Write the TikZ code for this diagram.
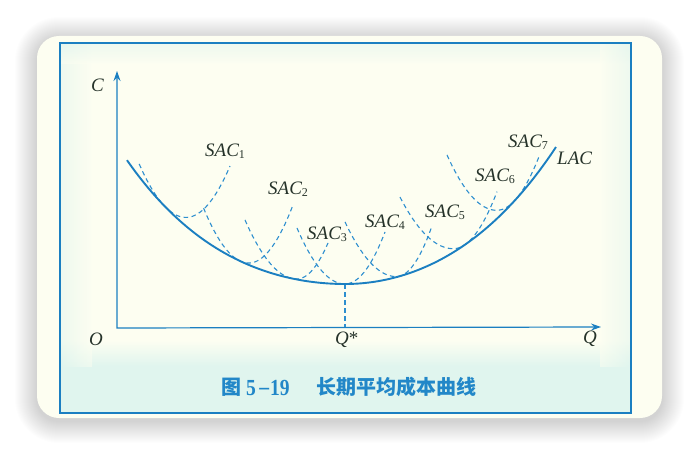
\documentclass[tikz,border=0pt]{standalone}
\usepackage{fontspec}
\usepackage{graphicx}
\setmainfont{Liberation Serif}
\newfontfamily\cjk{Noto Sans CJK SC}
\usetikzlibrary{arrows.meta}
\definecolor{cblue}{HTML}{1B7FC1}
\definecolor{lblue}{HTML}{2E8FCF}
\definecolor{ink}{HTML}{26332A}
\definecolor{cream}{HTML}{FDFEF1}
\definecolor{mint}{HTML}{E0F5EE}
\definecolor{capblue}{HTML}{2287C8}
\newcommand{\mysub}[1]{\raisebox{-1.5pt}{\fontsize{12}{12}\selectfont\upshape #1}}
\newcommand{\sacarc}[6]{%
  \draw[sacline] plot[domain=#1:#2, samples=40] (\x,{#3-#4*(\x-#2)*(\x-#2)})
     -- plot[domain=#2:#6, samples=40] (\x,{#3-#5*(\x-#2)*(\x-#2)});}
\begin{document}
\begin{tikzpicture}[x=1pt,y=-1pt,
  declare function={
    ul(\x)=(\x-345)/100;
    lacl(\x)=284-19.3*(ul(\x))*(ul(\x))-1.42*(ul(\x))*(ul(\x))*(ul(\x))*(ul(\x));
    lacr(\x)=284-25.67*(ul(\x))*(ul(\x))-1.145*(ul(\x))*(ul(\x))*(ul(\x))*(ul(\x));
  },
  lab/.style={font=\fontsize{19}{19}\selectfont\itshape, text=ink, inner sep=0pt, anchor=base west},
  captext/.style={font=\cjk\bfseries\fontsize{20}{20}\selectfont, text=capblue, inner sep=0pt, anchor=base west},
  capnum/.style={font=\bfseries\fontsize{23}{23}\selectfont, text=capblue, inner sep=0pt, anchor=base west},
  sacline/.style={draw=lblue, line width=1.1pt, dash pattern=on 4.5pt off 3.5pt},
  lacline/.style={draw=cblue, line width=1.9pt},
  axisline/.style={draw=cblue, line width=1.2pt, {Stealth[length=10pt,width=7pt]}-{Stealth[length=10pt,width=7pt]}},
]
\useasboundingbox (0,0) rectangle (698,454);
\fill[white] (0,0) rectangle (698,454);
% shadow
\foreach \i [evaluate=\i as \r using 22+\i] in {1,...,22}
  \fill[black, opacity=0.009, rounded corners=\r pt] ({37-\i},{36-\i+3}) rectangle ({662+\i},{418+\i+3});
% card
\fill[cream, rounded corners=22pt] (37,36) rectangle (662,418);
% texture bands
\shade[top color=cream, bottom color=mint] (61,340) rectangle (630,366);
\fill[mint] (61,366) rectangle (630,412);
\shade[left color=mint, right color=cream, opacity=0.5] (61,44) rectangle (92,366);
\shade[top color=mint, bottom color=cream, opacity=0.5] (61,44) rectangle (630,64);
\shade[left color=cream, right color=mint, opacity=0.5] (600,44) rectangle (630,366);
% frame
\draw[cblue, line width=1.8pt] (60,43) rectangle (631,413);
% axes
\coordinate (Ytip) at (117,71);
\coordinate (O) at (117,328);
\coordinate (Xtip) at (601,327);
\draw[axisline] (Ytip) -- (O) -- (Xtip);
% SAC curves
\sacarc{139.2}{186}{217.4}{0.0244}{0.0265}{230}
\sacarc{203.6}{248.7}{263.05}{0.027}{0.0296}{293}
\sacarc{245}{296.8}{279.0}{0.022}{0.037}{328}
\sacarc{297}{345}{284}{0.0243}{0.0325}{385}
\sacarc{345}{396.4}{276.6}{0.0207}{0.04}{432}
\sacarc{400}{453.4}{248.7}{0.0181}{0.03}{497}
\sacarc{447}{496.7}{210.3}{0.0224}{0.03}{538.9}
% Q* dashed
\coordinate (M) at (345,284);
\coordinate (Qs) at (345,327);
\draw[sacline] (M) -- (Qs);
% LAC
\draw[lacline] plot[domain=127:345, samples=80] (\x,{lacl(\x)})
   -- plot[domain=345:556, samples=80] (\x,{lacr(\x)});
% labels
\node[lab] (s1) at (205,157) {SAC\mysub{1}};
\node[lab] (s2) at (268,195) {SAC\mysub{2}};
\node[lab] (s3) at (307,240) {SAC\mysub{3}};
\node[lab] (s4) at (365,228) {SAC\mysub{4}};
\node[lab] (s5) at (425,218) {SAC\mysub{5}};
\node[lab] (s6) at (475,182) {SAC\mysub{6}};
\node[lab] (s7) at (508,148) {SAC\mysub{7}};
\node[lab] (lac) at (557,165) {LAC};
\node[lab] (lc) at (91,92) {C};
\node[lab] (lo) at (89,345) {O};
\node[lab] (lqs) at (335,344) {Q\upshape*};
\node[lab] (lq) at (583,343) {Q};
% caption
\node[captext] (f1) at (221,394) {图};
\node[capnum] (f2) at (246,395) {\scalebox{0.85}[1]{5\kern4pt\raisebox{0.5pt}{–}\kern1pt19}};
\node[captext] (f3) at (316,394) {长期平均成本曲线};
\end{tikzpicture}
\end{document}
